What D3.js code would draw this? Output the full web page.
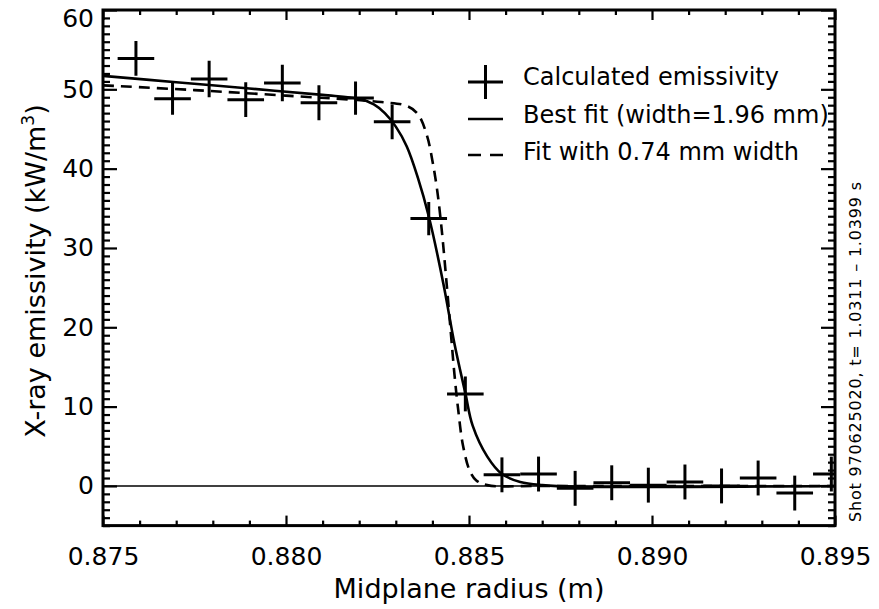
<!DOCTYPE html>
<html>
<head>
<meta charset="utf-8">
<script src="https://cdn.jsdelivr.net/npm/d3@7"></script>
<style>
  body { margin: 0; background: #fff; }
  text { font-family: "DejaVu Sans", sans-serif; fill: #000; }
</style>
</head>
<body>
<svg id="chart" width="879" height="609"></svg>
<script>
// Measured points (midplane radius in m, emissivity in kW/m^3, error bar half height)
const radius = [0.8759, 0.8769, 0.8779, 0.8789, 0.8799, 0.8809, 0.8819, 0.8829, 0.8839, 0.8849,
                0.8859, 0.8869, 0.8879, 0.8889, 0.8899, 0.8909, 0.8919, 0.8929, 0.8939, 0.8949];
const emissivity = [53.9, 48.8, 51.3, 48.7, 50.8, 48.3, 48.9, 45.9, 33.7, 11.6,
                    1.4, 1.5, -0.3, 0.4, 0.1, 0.5, 0.0, 1.0, -0.9, 1.5];
const errBar = [2.2, 2.0, 2.3, 2.2, 2.3, 2.2, 2.1, 2.2, 2.1, 2.2,
                2.2, 2.2, 2.2, 2.2, 2.2, 2.2, 2.2, 2.2, 2.2, 2.2];
const binHalf = 0.0005;

// Best fit curve (width = 1.96 mm)
const bestX = [0.875, 0.877, 0.879, 0.881, 0.8820, 0.8824, 0.8827, 0.8830, 0.8833, 0.8836,
               0.8839, 0.8843, 0.8846, 0.8849, 0.8851, 0.8855, 0.8859, 0.8864, 0.8870, 0.8880, 0.895];
const bestY = [51.7, 50.9, 50.1, 49.3, 48.8, 48.1, 47.0, 45.3, 42.8, 38.9,
               34.0, 25.5, 18.0, 11.7, 7.6, 3.7, 1.5, 0.5, 0.1, -0.1, 0.0];

// Fit with 0.74 mm width
const narrowX = [0.875, 0.8775, 0.880, 0.8826, 0.8833, 0.8836, 0.88385, 0.8840, 0.88413, 0.88425,
                 0.88437, 0.8845, 0.8846, 0.8847, 0.88484, 0.88503, 0.8852, 0.8855, 0.887, 0.895];
const narrowY = [50.5, 49.9, 49.2, 48.4, 47.9, 46.9, 44.2, 41.0, 37.3, 32.5,
                 26.5, 19.5, 14.2, 9.8, 5.0, 1.8, 0.7, 0.1, 0.0, 0.0];

const xTicks = [0.875, 0.880, 0.885, 0.890, 0.895];
const xTickLabels = ["0.875", "0.880", "0.885", "0.890", "0.895"];
const yTicks = [0, 10, 20, 30, 40, 50, 60];
const legendLabels = ["Calculated emissivity", "Best fit (width=1.96 mm)", "Fit with 0.74 mm width"];
const shotLabel = "Shot 970625020, t= 1.0311 \u2013 1.0399 s";

const margin = { top: 10, right: 44, bottom: 83.4, left: 103 };
const W = 879, H = 609;

const svg = d3.select("#chart");

const x = d3.scaleLinear().domain([0.875, 0.895]).range([margin.left, W - margin.right]);
const y = d3.scaleLinear().domain([-5, 60]).range([H - margin.bottom, margin.top]);

const xMinor = d3.range(0, 21).map(i => 0.875 + i * 0.001).filter((v, i) => i % 5 !== 0);
const yMinor = d3.range(-5, 61).filter(v => v % 10 !== 0);

svg.append("clipPath").attr("id", "plotclip")
  .append("rect")
  .attr("x", x(0.875)).attr("y", y(60))
  .attr("width", x(0.895) - x(0.875)).attr("height", y(-5) - y(60));

function styleAxis(g) {
  g.select(".domain").remove();
  g.selectAll(".tick line").attr("stroke", "#000").attr("stroke-width", 2.2);
}

// bottom axis with labels
svg.append("g")
  .attr("transform", `translate(0,${y(-5)})`)
  .call(d3.axisBottom(x).tickValues(xTicks).tickSize(-10).tickPadding(22)
    .tickFormat((d, i) => xTickLabels[i]))
  .call(styleAxis)
  .call(g => g.selectAll("text").style("font-size", "25px").attr("dy", "0.71em"));
svg.append("g")
  .attr("transform", `translate(0,${y(-5)})`)
  .call(d3.axisBottom(x).tickValues(xMinor).tickSize(-5).tickFormat(""))
  .call(styleAxis);

// top axis
svg.append("g")
  .attr("transform", `translate(0,${y(60)})`)
  .call(d3.axisTop(x).tickValues(xTicks).tickSize(-10).tickFormat(""))
  .call(styleAxis);
svg.append("g")
  .attr("transform", `translate(0,${y(60)})`)
  .call(d3.axisTop(x).tickValues(xMinor).tickSize(-5).tickFormat(""))
  .call(styleAxis);

// left axis with labels (the top label sits a little lower so it stays on the page)
svg.append("g")
  .attr("transform", `translate(${x(0.875)},0)`)
  .call(d3.axisLeft(y).tickValues(yTicks).tickSize(-14).tickPadding(9).tickFormat(d3.format("d")))
  .call(styleAxis)
  .call(g => g.selectAll("text").style("font-size", "25px")
    .attr("y", d => d === 60 ? 8 : 0));
svg.append("g")
  .attr("transform", `translate(${x(0.875)},0)`)
  .call(d3.axisLeft(y).tickValues(yMinor).tickSize(-7).tickFormat(""))
  .call(styleAxis);

// right axis
svg.append("g")
  .attr("transform", `translate(${x(0.895)},0)`)
  .call(d3.axisRight(y).tickValues(yTicks).tickSize(-14).tickFormat(""))
  .call(styleAxis);
svg.append("g")
  .attr("transform", `translate(${x(0.895)},0)`)
  .call(d3.axisRight(y).tickValues(yMinor).tickSize(-7).tickFormat(""))
  .call(styleAxis);

// frame
svg.append("rect")
  .attr("x", x(0.875)).attr("y", y(60))
  .attr("width", x(0.895) - x(0.875)).attr("height", y(-5) - y(60))
  .attr("fill", "none").attr("stroke", "#000").attr("stroke-width", 3);

const plot = svg.append("g").attr("clip-path", "url(#plotclip)");

// zero line
plot.append("line")
  .attr("x1", x(0.875)).attr("x2", x(0.895))
  .attr("y1", y(0)).attr("y2", y(0))
  .attr("stroke", "#000").attr("stroke-width", 1.5);

const line = d3.line().curve(d3.curveCatmullRom.alpha(0.5));

plot.append("path")
  .attr("d", line(bestX.map((v, i) => [x(v), y(bestY[i])])))
  .attr("fill", "none").attr("stroke", "#000").attr("stroke-width", 2.6);

plot.append("path")
  .attr("d", line(narrowX.map((v, i) => [x(v), y(narrowY[i])])))
  .attr("fill", "none").attr("stroke", "#000").attr("stroke-width", 2.6)
  .attr("stroke-dasharray", "11,7");

// crosses
const pts = radius.map((r, i) => ({ r, e: emissivity[i], s: errBar[i] }));
const cross = plot.selectAll(".cross").data(pts).enter().append("g").attr("class", "cross");
cross.append("line")
  .attr("x1", d => x(d.r - binHalf)).attr("x2", d => x(d.r + binHalf))
  .attr("y1", d => y(d.e)).attr("y2", d => y(d.e))
  .attr("stroke", "#000").attr("stroke-width", 3);
cross.append("line")
  .attr("x1", d => x(d.r)).attr("x2", d => x(d.r))
  .attr("y1", d => y(d.e - d.s)).attr("y2", d => y(d.e + d.s))
  .attr("stroke", "#000").attr("stroke-width", 3);

// legend
const legX = 468, legW = 35, legTextX = 523;
const legBase = [85, 123, 160];
const leg = svg.append("g");
leg.append("line").attr("x1", legX).attr("x2", legX + legW)
  .attr("y1", legBase[0] - 3).attr("y2", legBase[0] - 3)
  .attr("stroke", "#000").attr("stroke-width", 3);
leg.append("line").attr("x1", legX + legW / 2).attr("x2", legX + legW / 2)
  .attr("y1", legBase[0] - 20).attr("y2", legBase[0] + 14)
  .attr("stroke", "#000").attr("stroke-width", 3);
leg.append("line").attr("x1", legX).attr("x2", legX + legW)
  .attr("y1", legBase[1] - 4).attr("y2", legBase[1] - 4)
  .attr("stroke", "#000").attr("stroke-width", 2.6);
leg.append("line").attr("x1", legX).attr("x2", legX + legW)
  .attr("y1", legBase[2] - 5).attr("y2", legBase[2] - 5)
  .attr("stroke", "#000").attr("stroke-width", 2.6)
  .attr("stroke-dasharray", "13,9");
leg.selectAll(".legtext").data(legendLabels).enter().append("text")
  .attr("x", legTextX).attr("y", (d, i) => legBase[i])
  .style("font-size", "24px")
  .text(d => d);

// axis titles
svg.append("text")
  .attr("x", (x(0.875) + x(0.895)) / 2).attr("y", 598)
  .attr("text-anchor", "middle").style("font-size", "27px")
  .text("Midplane radius (m)");

const yt = svg.append("text")
  .attr("transform", "translate(45,271) rotate(-90)")
  .attr("text-anchor", "middle").style("font-size", "27px");
yt.append("tspan").text("X-ray emissivity (kW/m");
yt.append("tspan").attr("dy", -11).style("font-size", "17px").text("3");
yt.append("tspan").attr("dy", 11).text(")");

// side note
svg.append("text")
  .attr("transform", "translate(861,352) rotate(-90)")
  .attr("text-anchor", "middle")
  .attr("textLength", 340).attr("lengthAdjust", "spacing")
  .style("font-size", "16px")
  .text(shotLabel);
</script>
</body>
</html>
